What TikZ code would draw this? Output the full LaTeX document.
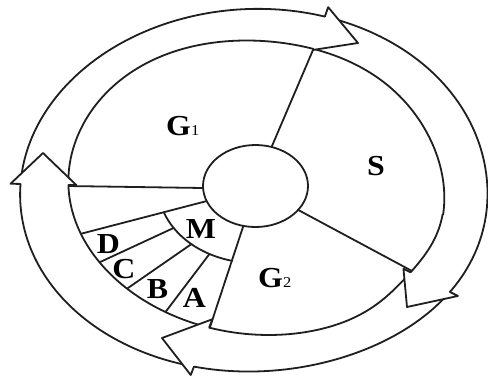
\documentclass[tikz,border=0pt]{standalone}
\usepackage{fontspec}
\setmainfont{Liberation Serif}
\newfontfamily\labfont[FakeStretch=1.1]{Liberation Serif}
\usetikzlibrary{intersections,calc}
\begin{document}
\begin{tikzpicture}[x=1pt,y=-1pt,
  ln/.style={line width=1.8pt, draw=black!88, line join=round, line cap=round},
  lab/.style={inner sep=0pt, font=\labfont\bfseries\fontsize{29}{29}\selectfont},
  declare function={
    gb(\x,\y,\z)=exp(-min(20,((\x-\y)/\z)*((\x-\y)/\z)));
    ki(\x)=1+0.03*gb(\x,300,28)-0.02*gb(\x,195,35)-0.03*gb(\x,28,18);
    ix(\x)=255+(188.1*cos(\x)-20.3*sin(\x))*ki(\x);
    iy(\x)=188+(26.4*cos(\x)+144.6*sin(\x))*ki(\x);
    ko(\x)=1+0.035*gb(\x,35,35);
    ox(\x)=252+(231.7*cos(\x)+9.47*sin(\x))*ko(\x);
    oy(\x)=190+(-12.13*cos(\x)+180.75*sin(\x))*ko(\x);
  }]
\useasboundingbox (0,0) rectangle (488,378);
\fill[white] (0,0) rectangle (488,378);

% outer boundary of the arrow ring
\draw[ln, name path=outerC] plot[domain=-90:270, samples=241] ({ox(\x)},{oy(\x)}) -- cycle;

% inner disk
\draw[ln, fill=white, name path=innerC] plot[domain=0:360, samples=241] ({ix(\x)},{iy(\x)}) -- cycle;

% radial divisions
\coordinate (r1a) at (272,146); \coordinate (r1b) at (313,50);
\coordinate (r2a) at (302,212); \coordinate (r2b) at (412,271);
\coordinate (r3a) at (243,227); \coordinate (r3b) at (211,324);
\coordinate (r4a) at (203,188); \coordinate (r4b) at (67,186);
\coordinate (r5a) at (205,201.5); \coordinate (r5b) at (82,233.5);
\coordinate (m1) at ({255+97*cos(147)},{186+77*sin(147)});
\coordinate (m2) at ({255+97*cos(131)},{186+77*sin(131)});
\coordinate (m3) at ({255+97*cos(118)},{186+77*sin(118)});
\coordinate (e1) at (98,263);
\coordinate (e2) at (128,288);
\coordinate (e3) at (167,310);
\begin{scope}
  \clip plot[domain=0:360, samples=241] ({ix(\x)},{iy(\x)}) -- cycle;
  \draw[ln] ($(r1b)!1.1!(r1a)$) -- ($(r1a)!1.3!(r1b)$);
  \draw[ln] ($(r2b)!1.1!(r2a)$) -- ($(r2a)!1.3!(r2b)$);
  \draw[ln] ($(r3b)!1.1!(r3a)$) -- ($(r3a)!1.3!(r3b)$);
  \draw[ln] ($(r4b)!1.1!(r4a)$) -- ($(r4a)!1.3!(r4b)$);
  \draw[ln] ($(r5b)!1.1!(r5a)$) -- ($(r5a)!1.3!(r5b)$);
  \draw[ln] (m1) -- ($(m1)!1.4!(e1)$);
  \draw[ln] (m2) -- ($(m2)!1.4!(e2)$);
  \draw[ln] (m3) -- ($(m3)!1.4!(e3)$);
\end{scope}
\draw[ln] plot[domain=103.5:160, samples=40] ({255+97*cos(\x)},{186+77*sin(\x)});
\draw[ln, fill=white] (255.5,186) ellipse [x radius=52.5, y radius=41];

% arrowheads
% left
\path[name path=gL] (0,183.5) -- (92,185.5);
\path[name intersections={of=gL and outerC, by=jLo}];
\path[name intersections={of=gL and innerC, by=jLi}];
\coordinate (bLo) at ($(jLo)!-10pt!(jLi)$);
\coordinate (bLi) at ($(jLi)!-8pt!(jLo)$);
\coordinate (tL) at (43,153);
\fill[white] (bLo) -- (tL) -- (bLi) -- cycle;
\draw[ln] (jLi) -- (bLi) -- (tL) -- (bLo) -- (jLo);
% top right
\path[name path=gT] (331,-1) -- (309,62);
\path[name intersections={of=gT and outerC, by=jTo}];
\path[name intersections={of=gT and innerC, by=jTi}];
\coordinate (bTo) at ($(jTo)!-10pt!(jTi)$);
\coordinate (bTi) at ($(jTi)!-1pt!(jTo)$);
\coordinate (tT) at (358,43);
\fill[white] (bTo) -- (tT) -- (bTi) -- cycle;
\draw[ln] (jTi) -- (bTi) -- (tT) -- (bTo) -- (jTo);
% bottom right
\path[name path=gR] (468,301) -- (394,264);
\path[name intersections={of=gR and outerC, by=jRo}];
\path[name intersections={of=gR and innerC, by=jRi}];
\coordinate (bRo) at ($(jRo)!-9pt!(jRi)$);
\coordinate (bRi) at ($(jRi)!-8pt!(jRo)$);
\coordinate (tR) at (407,307);
\fill[white] (bRo) -- (tR) -- (bRi) -- cycle;
\draw[ln] (jRi) -- (bRi) -- (tR) -- (bRo) -- (jRo);
% bottom left
\path[name path=gB] (188,382) -- (216,310);
\path[name intersections={of=gB and outerC, by=jBo}];
\path[name intersections={of=gB and innerC, by=jBi}];
\coordinate (bBo) at ($(jBo)!-9pt!(jBi)$);
\coordinate (bBi) at ($(jBi)!-9pt!(jBo)$);
\coordinate (tB) at (162,338);
\fill[white] (bBo) -- (tB) -- (bBi) -- cycle;
\draw[ln] (jBi) -- (bBi) -- (tB) -- (bBo) -- (jBo);

% labels
\node[lab, anchor=base west] (g1) at (166,135) {G{\fontsize{15}{15}\selectfont\mdseries 1}};
\node[lab, anchor=base] (s) at (376,175) {S};
\node[lab, anchor=base west] (g2) at (258,287) {G{\fontsize{15}{15}\selectfont\mdseries 2}};
\node[lab, anchor=base] (m) at (201,238) {M};
\node[lab, anchor=base] (d) at (108.5,253) {D};
\node[lab, anchor=base] (c) at (124,278) {C};
\node[lab, anchor=base] (b) at (157.5,298) {B};
\node[lab, anchor=base] (a) at (194.5,307) {A};
\end{tikzpicture}
\end{document}
